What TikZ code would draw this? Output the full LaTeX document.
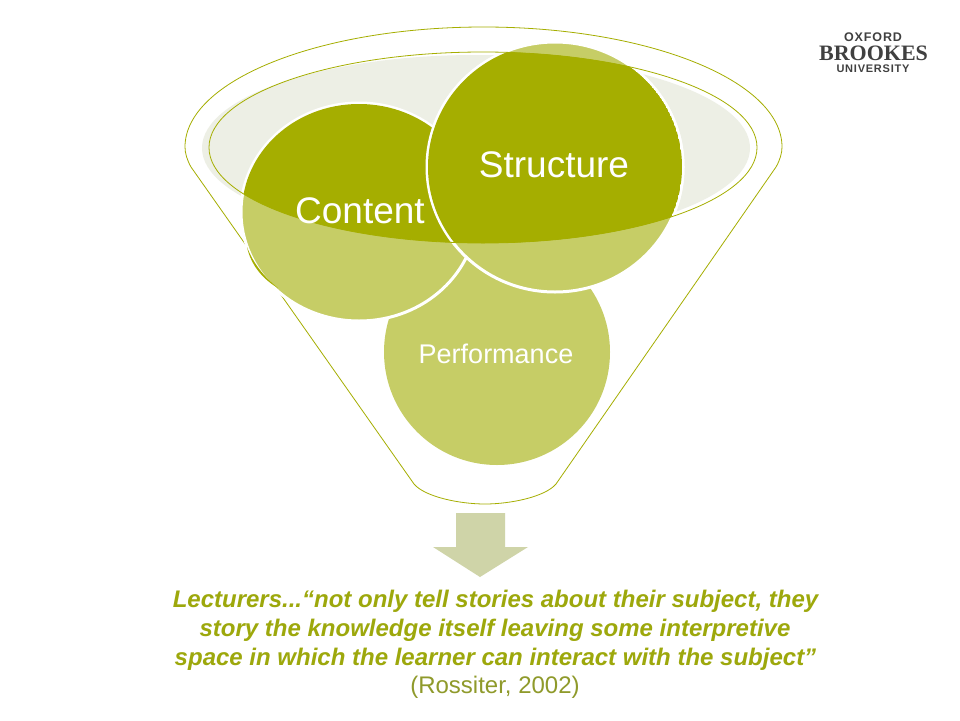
\documentclass[tikz,border=0pt]{standalone}
\usepackage{fontspec}
\setmainfont{Liberation Sans}
\newfontfamily\logoserif{Liberation Serif}
\newfontfamily\logosans[LetterSpace=7]{Liberation Sans}
\definecolor{olive}{HTML}{A5AE00}
\definecolor{lightolive}{HTML}{C6CD66}
\definecolor{palegray}{HTML}{EDEFE5}
\definecolor{arrowgray}{HTML}{CFD4A8}
\definecolor{quotegreen}{HTML}{9DA80C}
\definecolor{citegray}{HTML}{8F9A2B}
\definecolor{logogray}{HTML}{404040}
\tikzset{
  outline/.style={draw=olive,line width=0.8pt},
  disc/.style={fill=lightolive},
  whiteedge/.style={draw=white,line width=3pt},
  bigword/.style={text=white,font=\fontsize{37}{37}\selectfont,inner sep=0pt},
  quoteline/.style={text=quotegreen,font=\fontsize{24}{24}\selectfont\bfseries\itshape,inner sep=0pt},
}
\begin{document}
\begin{tikzpicture}[x=1pt,y=-1pt]
\useasboundingbox (0,0) rectangle (960,720);
\fill[white] (0,0) rectangle (960,720);
% funnel
\draw[outline] (185,147) arc[x radius=298.5,y radius=120,start angle=180,end angle=360]
  .. controls (782,153) and (780,160) .. (776,167)
  -- (556,484) .. controls (545,497) and (510,504) .. (485,504)
  .. controls (460,504) and (425,497) .. (414,484)
  -- (191,167) .. controls (187,160) and (185,153) .. (185,147) -- cycle;
% pale ellipse
\fill[palegray] (476,148) ellipse[x radius=274,y radius=93];
% discs
\fill[disc] (497,352) circle[radius=113];
\filldraw[disc,whiteedge] (359,212) ellipse[x radius=118,y radius=109];
\fill[olive] (247,247) .. controls (253,263) and (264,277) .. (278,288)
  .. controls (264,280) and (251,266) .. (247,247) -- cycle;
\filldraw[disc,whiteedge] (555,167) ellipse[x radius=128,y radius=125];
% overlap with the inner ellipse
\begin{scope}
\clip (483,147.5) ellipse[x radius=274,y radius=95.5];
\fill[olive] (359,212) ellipse[x radius=117,y radius=108];
\fill[olive] (555,167) ellipse[x radius=127,y radius=124];
\draw[white,line width=3pt] (555,167) ellipse[x radius=128,y radius=125];
\end{scope}
\draw[outline] (483,147.5) ellipse[x radius=274,y radius=95.5];
\begin{scope}
\clip (555,167) ellipse[x radius=127,y radius=124];
\clip (483,147.5) ellipse[x radius=274,y radius=95.5];
\fill[olive] (555,167) ellipse[x radius=127,y radius=124];
\end{scope}
% labels
\node[bigword] (content) at (360,211) {Content};
\node[bigword] (structure) at (554,165) {Structure};
\node[text=white,font=\fontsize{27}{27}\selectfont,inner sep=0pt] (performance) at (496,354) {Performance};
% arrow
\fill[arrowgray] (456,513) -- (505,513) -- (505,547) -- (528,547) -- (480,577) -- (433,547) -- (456,547) -- cycle;
% quote
\node[quoteline] (q1) at (495.5,601) {Lecturers...“not only tell stories about their subject, they};
\node[quoteline] (q2) at (495,630) {story the knowledge itself leaving some interpretive};
\node[quoteline] (q3) at (495.5,659) {space in which the learner can interact with the subject”};
\node[text=citegray,font=\fontsize{24}{24}\selectfont,inner sep=0pt] (cite) at (495,687) {(Rossiter, 2002)};
% logo
\node[text=logogray,font=\logosans\fontsize{12.5}{13}\selectfont\bfseries,inner sep=0pt] (l1) at (873,37) {OXFORD};
\node[text=logogray,font=\logoserif\fontsize{22}{24}\selectfont\bfseries,inner sep=0pt] (l2) at (873.5,53) {BROOKES};
\node[text=logogray,font=\logosans\fontsize{11}{12}\selectfont\bfseries,inner sep=0pt] (l3) at (873,69) {UNIVERSITY};
\end{tikzpicture}
\end{document}
